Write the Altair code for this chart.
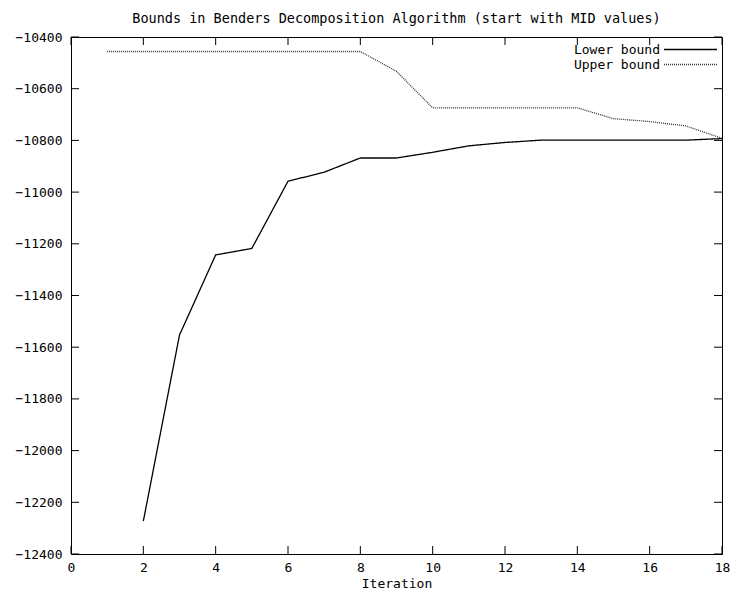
import altair as alt
import pandas as pd

lower_iter = [2, 3, 4, 5, 6, 7, 8, 9, 10, 11, 12, 13, 14, 15, 16, 17, 18]
lower_vals = [-12273, -11553, -11243, -11218, -10958, -10923, -10868, -10868,
              -10846, -10821, -10808, -10799, -10799, -10799, -10799, -10799, -10793]
upper_iter = [1, 2, 3, 4, 5, 6, 7, 8, 9, 10, 11, 12, 13, 14, 15, 16, 17, 18]
upper_vals = [-10456, -10456, -10456, -10456, -10456, -10456, -10456, -10456,
              -10533, -10674, -10674, -10674, -10674, -10674, -10716, -10727, -10744, -10792]
series = ["Lower bound", "Upper bound"]
x_ticks = [0, 2, 4, 6, 8, 10, 12, 14, 16, 18]
y_ticks = [-12400, -12200, -12000, -11800, -11600, -11400, -11200, -11000, -10800, -10600, -10400]

df = pd.concat([
    pd.DataFrame({"Iteration": lower_iter, "value": lower_vals, "series": series[0]}),
    pd.DataFrame({"Iteration": upper_iter, "value": upper_vals, "series": series[1]}),
])
xt = pd.DataFrame({"Iteration": x_ticks})
yt = pd.DataFrame({"value": y_ticks})

FONT = "DejaVu Sans Mono"
FS = 13
W, H, TICK = 651, 517, 8

xscale = alt.Scale(domain=[0, 18], nice=False, zero=False)
yscale = alt.Scale(domain=[-12400, -10400], nice=False, zero=False)

xaxis = alt.Axis(values=x_ticks, title="Iteration", orient="bottom", ticks=False,
                 domain=False, grid=False, labelFlush=False,
                 labelPadding=7, titlePadding=3, format="d")
yaxis = alt.Axis(values=y_ticks, title=None, orient="left", ticks=False,
                 domain=False, grid=False, labelPadding=9, format="d")

legend = alt.Legend(title=None, orient="none", legendX=613, legendY=6,
                    symbolType="M-5.3,0H5.3", symbolSize=100, symbolStrokeWidth=1.3,
                    symbolStrokeColor="black",
                    labelAlign="right", labelOffset={"expr": "-37"},
                    labelFont=FONT, labelFontSize=FS, labelColor="black", rowPadding=1)
color = alt.Color("series:N", scale=alt.Scale(domain=series, range=["#000000", "#333333"]),
                  legend=legend)
dash = alt.StrokeDash("series:N", scale=alt.Scale(domain=series, range=[[1, 0], [1, 1]]),
                      legend=legend)

X = alt.X("Iteration:Q", scale=xscale, axis=xaxis)
Y = alt.Y("value:Q", scale=yscale, axis=yaxis)

lines = alt.Chart(df).mark_line(strokeWidth=1.3).encode(
    x=X, y=Y, color=color, strokeDash=dash,
)

tick_x_bottom = alt.Chart(xt).mark_rule(color="black", strokeWidth=1).encode(
    x=X, y=alt.value(H), y2=alt.value(H - TICK))
tick_x_top = alt.Chart(xt).mark_rule(color="black", strokeWidth=1).encode(
    x=X, y=alt.value(0), y2=alt.value(TICK))
tick_y_left = alt.Chart(yt).mark_rule(color="black", strokeWidth=1).encode(
    y=Y, x=alt.value(0), x2=alt.value(TICK))
tick_y_right = alt.Chart(yt).mark_rule(color="black", strokeWidth=1).encode(
    y=Y, x=alt.value(W - TICK), x2=alt.value(W))

chart = alt.layer(lines, tick_x_bottom, tick_x_top, tick_y_left, tick_y_right).properties(
    width=W, height=H,
    autosize=alt.AutoSizeParams(type="none"),
    padding={"left": 63, "top": 29, "right": 8, "bottom": 39},
    background="white",
    title=alt.TitleParams("Bounds in Benders Decomposition Algorithm (start with MID values)",
                          font=FONT, fontSize=13.5, fontWeight="normal", color="black",
                          anchor="middle", offset=6),
).configure_view(stroke="black", strokeWidth=1).configure_axis(
    labelFont=FONT, labelFontSize=FS, labelColor="black",
    titleFont=FONT, titleFontSize=FS, titleFontWeight="normal", titleColor="black",
)

chart.save("out.html", embed_options={"renderer": "svg", "actions": False})
